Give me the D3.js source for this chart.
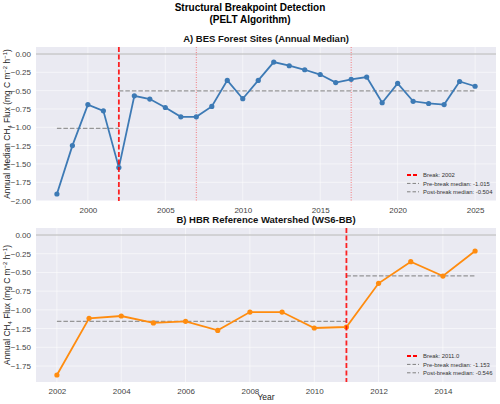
<!DOCTYPE html>
<html>
<head>
<meta charset="utf-8">
<script src="https://cdn.jsdelivr.net/npm/d3@7"></script>
<style>
  body { margin: 0; background: #fff; }
  svg { font-family: "Liberation Sans", Arial, sans-serif; }
  .tick text { fill: #444; font-size: 8px; }
</style>
</head>
<body>
<div id="chart"></div>
<script>
// Panel A: BES forest sites, annual median
const besYears = d3.range(1998, 2026);
const besFlux = [-1.91, -1.25, -0.69, -0.775, -1.55, -0.57, -0.615, -0.73, -0.857, -0.857,
  -0.715, -0.36, -0.61, -0.36, -0.11, -0.16, -0.215, -0.28, -0.39, -0.345,
  -0.315, -0.665, -0.40, -0.645, -0.675, -0.69, -0.375, -0.44];
const besBreak = 2002;
const besOtherBreaks = [2007, 2017];
const besPre = -1.015, besPost = -0.504;

// Panel B: HBR reference watershed
const hbrYears = d3.range(2002, 2016);
const hbrFlux = [-1.87, -1.113, -1.082, -1.175, -1.153, -1.274, -1.029, -1.029,
  -1.242, -1.229, -0.645, -0.356, -0.548, -0.214];
const hbrBreak = 2011;
const hbrPre = -1.153, hbrPost = -0.546;

const W = 500, H = 404;
const svg = d3.select('#chart').append('svg').attr('width', W).attr('height', H);

// figure title
svg.append('text').attr('x', 250).attr('y', 11).attr('text-anchor', 'middle')
  .attr('font-size', 10).attr('font-weight', 'bold').text('Structural Breakpoint Detection');
svg.append('text').attr('x', 250).attr('y', 23).attr('text-anchor', 'middle')
  .attr('font-size', 10).attr('font-weight', 'bold').text('(PELT Algorithm)');

function panel(opts) {
  const { top, bottom, years, flux, color, title, ylab, breakYear, breakLabel,
    extraBreaks, pre, post, xticks, yticks } = opts;
  const left = 36, right = 496;

  const xPad = (d3.max(years) - d3.min(years)) * 0.05;
  const x = d3.scaleLinear([d3.min(years) - xPad, d3.max(years) + xPad], [left, right]);
  const yMin = Math.min(d3.min(flux), 0), yMax = Math.max(d3.max(flux), 0);
  const yPad = (yMax - yMin) * 0.05;
  const y = d3.scaleLinear([yMin - yPad, yMax + yPad], [bottom, top]);

  const g = svg.append('g');
  g.append('rect').attr('x', left).attr('y', top)
    .attr('width', right - left).attr('height', bottom - top).attr('fill', '#eaeaf2');

  // grid
  g.selectAll('.gx').data(xticks).enter().append('line')
    .attr('x1', d => x(d)).attr('x2', d => x(d)).attr('y1', top).attr('y2', bottom)
    .attr('stroke', '#fff').attr('stroke-width', 0.8).attr('opacity', 0.7);
  g.selectAll('.gy').data(yticks).enter().append('line')
    .attr('x1', left).attr('x2', right).attr('y1', d => y(d)).attr('y2', d => y(d))
    .attr('stroke', '#fff').attr('stroke-width', 0.8).attr('opacity', 0.7);

  // axes
  const xAxis = g.append('g').attr('transform', `translate(0,${bottom})`)
    .call(d3.axisBottom(x).tickValues(xticks).tickFormat(d3.format('d')).tickSize(0).tickPadding(6));
  xAxis.select('.domain').remove();
  const yAxis = g.append('g').attr('transform', `translate(${left},0)`)
    .call(d3.axisLeft(y).tickValues(yticks).tickFormat(d3.format('.2f')).tickSize(0).tickPadding(5));
  yAxis.select('.domain').remove();
  yAxis.selectAll('text').text(d => d3.format('.2f')(d).replace('-', '\u2212'));

  // zero line
  g.append('line').attr('x1', left).attr('x2', right).attr('y1', y(0)).attr('y2', y(0))
    .attr('stroke', '#b4b4b4').attr('stroke-width', 1);

  // other breakpoints
  g.selectAll('.ob').data(extraBreaks).enter().append('line')
    .attr('x1', d => x(d)).attr('x2', d => x(d)).attr('y1', top).attr('y2', bottom)
    .attr('stroke', '#ff0000').attr('stroke-width', 0.8).attr('stroke-dasharray', '1,1.5').attr('opacity', 0.6);

  // median segments
  const medianSeg = (x0, x1, v) => g.append('line')
    .attr('x1', x(x0)).attr('x2', x(x1)).attr('y1', y(v)).attr('y2', y(v))
    .attr('stroke', '#808080').attr('stroke-width', 1.2).attr('stroke-dasharray', '4.5,2').attr('opacity', 0.8);
  medianSeg(d3.min(years), breakYear, pre);
  medianSeg(breakYear, d3.max(years), post);

  // series
  const pts = years.map((yr, i) => [yr, flux[i]]);
  g.append('path').datum(pts)
    .attr('d', d3.line().x(d => x(d[0])).y(d => y(d[1])))
    .attr('fill', 'none').attr('stroke', color).attr('stroke-width', 1.8);
  g.selectAll('.pt').data(pts).enter().append('circle')
    .attr('cx', d => x(d[0])).attr('cy', d => y(d[1])).attr('r', 2.6).attr('fill', color);

  // main break
  g.append('line').attr('x1', x(breakYear)).attr('x2', x(breakYear)).attr('y1', top).attr('y2', bottom)
    .attr('stroke', '#ff0000').attr('stroke-width', 1.8).attr('stroke-dasharray', '5,2.5').attr('opacity', 0.85);

  // title
  g.append('text').attr('x', (left + right) / 2).attr('y', top - 5).attr('text-anchor', 'middle')
    .attr('font-size', 9.5).attr('font-weight', 'bold').attr('fill', '#111').text(title);

  // y label
  const yl = g.append('text').attr('transform', `translate(10,${(top + bottom) / 2}) rotate(-90)`)
    .attr('text-anchor', 'middle').attr('font-size', 8.4).attr('fill', '#222');
  yl.append('tspan').text(ylab + ' CH');
  yl.append('tspan').attr('font-size', 6).attr('dy', 2).text('4');
  yl.append('tspan').attr('dy', -2).text(' Flux (mg C m');
  yl.append('tspan').attr('font-size', 6).attr('dy', -3).text('\u22122');
  yl.append('tspan').attr('dy', 3).text(' h');
  yl.append('tspan').attr('font-size', 6).attr('dy', -3).text('\u22121');
  yl.append('tspan').attr('dy', 3).text(')');

  // legend
  const items = [
    { label: breakLabel, color: '#ff0000', w: 1.8, dash: '4,2' },
    { label: `Pre-break median: ${pre.toFixed(3)}`, color: '#808080', w: 1, dash: '3.5,2' },
    { label: `Post-break median: ${post.toFixed(3)}`, color: '#808080', w: 1, dash: '3.5,2' }
  ];
  const lg = g.append('g').attr('transform', `translate(407,${bottom - 26})`);
  items.forEach((it, i) => {
    lg.append('line').attr('x1', 0).attr('x2', 12).attr('y1', i * 8.4).attr('y2', i * 8.4)
      .attr('stroke', it.color).attr('stroke-width', it.w).attr('stroke-dasharray', it.dash);
    lg.append('text').attr('x', 16).attr('y', i * 8.4 + 2.2).attr('font-size', 5.9)
      .attr('fill', '#333').text(it.label);
  });
  return g;
}

panel({
  top: 47, bottom: 201, years: besYears, flux: besFlux, color: '#3d7ab5',
  title: 'A) BES Forest Sites (Annual Median)', ylab: 'Annual Median',
  breakYear: besBreak, breakLabel: 'Break: 2002', extraBreaks: besOtherBreaks,
  pre: besPre, post: besPost,
  xticks: [2000, 2005, 2010, 2015, 2020, 2025],
  yticks: [0, -0.25, -0.5, -0.75, -1, -1.25, -1.5, -1.75, -2]
});

panel({
  top: 228, bottom: 382, years: hbrYears, flux: hbrFlux, color: '#ff8c0f',
  title: 'B) HBR Reference Watershed (WS6-BB)', ylab: 'Annual',
  breakYear: hbrBreak, breakLabel: 'Break: 2011.0', extraBreaks: [],
  pre: hbrPre, post: hbrPost,
  xticks: [2002, 2004, 2006, 2008, 2010, 2012, 2014],
  yticks: [0, -0.25, -0.5, -0.75, -1, -1.25, -1.5, -1.75]
});

svg.append('text').attr('x', 266).attr('y', 400).attr('text-anchor', 'middle')
  .attr('font-size', 8.5).attr('fill', '#222').text('Year');
</script>
</body>
</html>
